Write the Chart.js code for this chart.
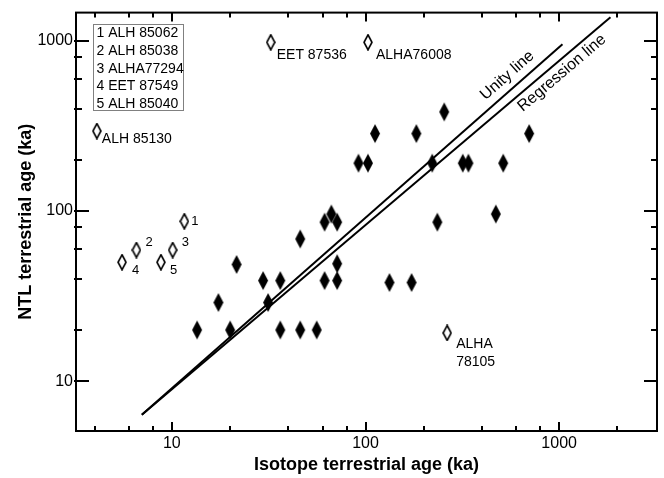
<!DOCTYPE html>
<html>
<head>
<meta charset="utf-8">
<script src="https://cdn.jsdelivr.net/npm/chart.js@4.4.0/dist/chart.umd.min.js"></script>
<style>
  html, body { margin: 0; padding: 0; background: #fff; }
</style>
</head>
<body>
<canvas id="chart" width="664" height="478"></canvas>
<script>
// filled diamonds: isotope age vs NTL age (ka)
const isoAge = [13.5, 17.4, 20, 21.6, 29.6, 31.4, 36.3, 36.3, 46, 46, 56, 61.5, 66.6, 71.4, 61.5, 71.4, 71.4,
                112, 183, 255, 700, 92, 103, 221, 318, 340, 514, 235, 471, 133, 173];
const ntlAge = [20, 29, 20, 48.5, 39, 29, 39, 20, 68.5, 20, 20, 86, 96, 86, 39, 39, 49,
                285, 285, 382, 285, 191, 191, 191, 191, 191, 191, 86, 96, 38, 38];

// open diamonds with names
const outlierNames = ['ALH 85130', 'EET 87536', 'ALHA76008', 'ALHA\n78105'];
const outlierIso = [4.1, 32.4, 103, 264];
const outlierNtl = [295, 980, 980, 19.2];

// open diamonds with numbers (see key box)
const numberedLabels = ['1', '2', '3', '4', '5'];
const numberedIso = [11.6, 6.56, 10.1, 5.53, 8.78];
const numberedNtl = [87, 59, 59, 50, 50];
const keyEntries = ['1 ALH 85062', '2 ALH 85038', '3 ALHA77294', '4 EET 87549', '5 ALH 85040'];

// the two lines
const unityIso = [7, 1040];
const unityNtl = [6.35, 955];
const regressionIso = [7, 1840];
const regressionNtl = [6.35, 1375];

// axis ticks
const xMajorTicks = [10, 100, 1000];
const xMinorTicks = [4, 6, 8, 20, 40, 60, 80, 200, 400, 600, 800, 2000];
const yMajorTicks = [10, 100, 1000];
const yMinorTicks = [20, 40, 60, 80, 200, 400, 600, 800];

const FONT = "'Liberation Sans', Arial, sans-serif";

function diamond(w, h, filled) {
    const c = document.createElement('canvas');
    c.width = w + 2;
    c.height = h + 2;
    const g = c.getContext('2d');
    g.beginPath();
    g.moveTo(c.width / 2, 1);
    g.lineTo(c.width - 1, c.height / 2);
    g.lineTo(c.width / 2, c.height - 1);
    g.lineTo(1, c.height / 2);
    g.closePath();
    if (filled) {
        g.fillStyle = '#000';
        g.fill();
    } else {
        g.fillStyle = '#fff';
        g.fill();
        g.lineWidth = 1.6;
        g.strokeStyle = '#000';
        g.stroke();
    }
    return c;
}

const toPoints = (xs, ys) => xs.map((v, i) => ({ x: v, y: ys[i] }));

// label placement (pixel offsets from the marker, text left edge)
const outlierOffsets = [[5, 8], [6, 13], [8, 13], [9, 11.5]];
const numberOffsets = [[7, 0], [9, -8], [9, -8], [10, 8], [9, 8]];
const lineLabels = [
    { text: 'Unity line', x: 540, y: 625, from: [unityIso, unityNtl] },
    { text: 'Regression line', x: 1034, y: 646, from: [regressionIso, regressionNtl] }
];

const decorations = {
    id: 'decorations',
    afterDatasetsDraw(chart) {
        const { ctx, chartArea: a, scales: { x, y } } = chart;
        ctx.save();
        ctx.strokeStyle = '#000';
        ctx.lineWidth = 2;

        // inward ticks on all four sides
        const xt = (vals, len) => vals.forEach(v => {
            const p = Math.round(x.getPixelForValue(v));
            ctx.beginPath();
            ctx.moveTo(p, a.bottom); ctx.lineTo(p, a.bottom - len);
            ctx.moveTo(p, a.top); ctx.lineTo(p, a.top + len);
            ctx.stroke();
        });
        const yt = (vals, len) => vals.forEach(v => {
            const p = Math.round(y.getPixelForValue(v));
            ctx.beginPath();
            ctx.moveTo(a.left - 2, p); ctx.lineTo(a.left + len, p);
            ctx.moveTo(a.right, p); ctx.lineTo(a.right - len, p);
            ctx.stroke();
        });
        xt(xMajorTicks, 9);
        xt(xMinorTicks, 5);
        yt(yMajorTicks, 13);
        yt(yMinorTicks, 6);

        ctx.strokeRect(a.left, a.top, a.right - a.left, a.bottom - a.top);

        // key box
        ctx.lineWidth = 1;
        ctx.strokeStyle = '#808080';
        ctx.strokeRect(93.5, 24.5, 90, 86);
        ctx.fillStyle = '#000';
        ctx.font = '14px ' + FONT;
        ctx.textBaseline = 'middle';
        ctx.textAlign = 'left';
        keyEntries.forEach((t, i) => ctx.fillText(t, 96.5, 33.5 + i * 17.6));

        // names next to open diamonds
        outlierNames.forEach((name, i) => {
            const px = x.getPixelForValue(outlierIso[i]) + outlierOffsets[i][0];
            const py = y.getPixelForValue(outlierNtl[i]) + outlierOffsets[i][1];
            name.split('\n').forEach((line, k) => ctx.fillText(line, px, py + k * 17.7));
        });

        ctx.font = '13px ' + FONT;
        numberedLabels.forEach((t, i) => {
            const px = x.getPixelForValue(numberedIso[i]) + numberOffsets[i][0];
            const py = y.getPixelForValue(numberedNtl[i]) + numberOffsets[i][1];
            ctx.fillText(t, px, py);
        });

        // rotated line labels
        ctx.font = '16px ' + FONT;
        ctx.textAlign = 'center';
        lineLabels.forEach(l => {
            const [xs, ys] = l.from;
            const ang = Math.atan2(
                y.getPixelForValue(ys[1]) - y.getPixelForValue(ys[0]),
                x.getPixelForValue(xs[1]) - x.getPixelForValue(xs[0]));
            ctx.save();
            ctx.translate(x.getPixelForValue(l.x), y.getPixelForValue(l.y));
            ctx.rotate(ang);
            ctx.fillText(l.text, 0, 0);
            ctx.restore();
        });
        ctx.restore();
    }
};

const filledMarker = diamond(10, 19, true);
const openMarker = diamond(8, 15, false);

new Chart(document.getElementById('chart'), {
    type: 'scatter',
    data: {
        datasets: [
            {
                data: toPoints(isoAge, ntlAge),
                pointStyle: filledMarker,
                pointRadius: 6
            },
            {
                data: toPoints(outlierIso, outlierNtl),
                pointStyle: openMarker,
                pointRadius: 5
            },
            {
                data: toPoints(numberedIso, numberedNtl),
                pointStyle: openMarker,
                pointRadius: 5
            },
            {
                data: toPoints(unityIso, unityNtl),
                showLine: true,
                borderColor: '#000',
                borderWidth: 2,
                pointRadius: 0
            },
            {
                data: toPoints(regressionIso, regressionNtl),
                showLine: true,
                borderColor: '#000',
                borderWidth: 2,
                pointRadius: 0
            }
        ]
    },
    options: {
        responsive: false,
        animation: false,
        layout: { padding: { top: 11, right: 4, left: 0, bottom: 0 } },
        plugins: {
            legend: { display: false },
            tooltip: { enabled: false }
        },
        scales: {
            x: {
                type: 'logarithmic',
                min: 3.2,
                max: 3200,
                afterBuildTicks: s => { s.ticks = xMajorTicks.map(v => ({ value: v })); },
                afterFit: s => { s.height = 47; },
                grid: { display: false, drawTicks: false },
                border: { display: false },
                ticks: {
                    color: '#000',
                    padding: 3,
                    maxRotation: 0,
                    autoSkip: false,
                    font: { family: FONT, size: 16 },
                    callback: v => String(v)
                },
                title: {
                    display: true,
                    text: 'Isotope terrestrial age (ka)',
                    color: '#000',
                    font: { family: FONT, size: 18, weight: 'bold' },
                    padding: { top: 0, bottom: 2 }
                }
            },
            y: {
                type: 'logarithmic',
                min: 5.1,
                max: 1464,
                afterBuildTicks: s => { s.ticks = yMajorTicks.map(v => ({ value: v })); },
                afterFit: s => { s.width = 76; },
                grid: { display: false, drawTicks: false },
                border: { display: false },
                ticks: {
                    color: '#000',
                    padding: 3,
                    autoSkip: false,
                    font: { family: FONT, size: 16 },
                    callback: v => String(v)
                },
                title: {
                    display: true,
                    text: 'NTL terrestrial age (ka)',
                    color: '#000',
                    font: { family: FONT, size: 18, weight: 'bold' },
                    padding: { top: 15, bottom: 0 }
                }
            }
        }
    },
    plugins: [decorations]
});
</script>
</body>
</html>
